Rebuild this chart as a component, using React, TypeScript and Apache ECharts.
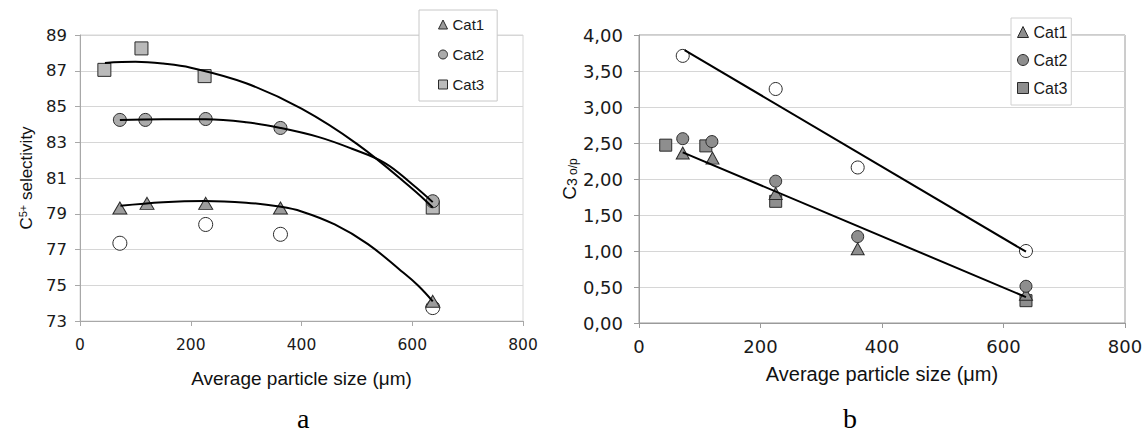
import React, { useEffect, useRef } from "react";
import * as echarts from "echarts";

// ---------- Chart a: C5+ selectivity ----------
const aCat1X = [72, 121, 227, 362, 637];
const aCat1Y = [79.32, 79.58, 79.58, 79.32, 74.1];
const aCat2X = [72, 118, 227, 362, 637];
const aCat2Y = [84.25, 84.25, 84.3, 83.8, 79.7];
const aCat3X = [44, 111, 225, 637];
const aCat3Y = [87.05, 88.25, 86.7, 79.35];
const aOpenX = [72, 227, 362, 637];
const aOpenY = [77.35, 78.4, 77.85, 73.75];
// trend curves
const aTrend1X = [73, 150, 225, 300, 360, 400, 460, 520, 580, 610, 637];
const aTrend1Y = [79.45, 79.65, 79.72, 79.62, 79.4, 79.13, 78.4, 77.3, 75.8, 75.0, 74.1];
const aTrend2X = [72, 150, 227, 300, 362, 430, 490, 550, 600, 637];
const aTrend2Y = [84.25, 84.28, 84.28, 84.12, 83.8, 83.3, 82.65, 81.85, 80.65, 79.65];
const aTrend3X = [45, 100, 150, 200, 300, 400, 500, 600, 637];
const aTrend3Y = [87.44, 87.5, 87.4, 87.17, 86.3, 84.88, 82.91, 80.4, 79.35];
const aYMin = 73;
const aYMax = 89;
const aYStep = 2;

// ---------- Chart b: C3 o/p ----------
const bCat1X = [72, 121, 225, 360, 637];
const bCat1Y = [2.36, 2.29, 1.8, 1.03, 0.4];
const bCat2X = [72, 120, 225, 360, 637];
const bCat2Y = [2.56, 2.52, 1.97, 1.2, 0.51];
const bCat3X = [44, 110, 225, 637];
const bCat3Y = [2.47, 2.46, 1.69, 0.31];
const bOpenX = [72, 225, 360, 637];
const bOpenY = [3.71, 3.25, 2.16, 1.0];
const bTrendUpperX = [75, 637];
const bTrendUpperY = [3.79, 0.99];
const bTrendLowerX = [72, 637];
const bTrendLowerY = [2.37, 0.36];

const xMin = 0;
const xMax = 800;
const xStep = 200;
const legendNames = ["Cat1", "Cat2", "Cat3"];

const SANS = "'Liberation Sans', Arial, Helvetica, sans-serif";
const WIDE = "'DejaVu Sans', 'Liberation Sans', Arial, sans-serif";
const SERIF = "'Liberation Serif', 'Times New Roman', serif";

const zip = (xs: number[], ys: number[], off = 0) => xs.map((x, i) => [x, ys[i] - off]);

export default function App() {
  const ref = useRef<HTMLDivElement>(null);
  useEffect(() => {
    if (!ref.current) return;
    const chart = echarts.init(ref.current, undefined, { renderer: "svg" });

    const grayA1 = "#9c9c9c";
    const grayA2 = "#ababab";
    const grayA3 = "#bababa";
    const grayB = "#8e8e8e";
    const edge = "#2a2a2a";

    const scatter = (
      name: string,
      xIdx: number,
      data: number[][],
      symbol: string,
      size: number | number[],
      fill: string
    ) => ({
      type: "scatter",
      name,
      xAxisIndex: xIdx,
      yAxisIndex: xIdx,
      data,
      symbol,
      symbolSize: size,
      itemStyle: { color: fill, borderColor: edge, borderWidth: 1, opacity: 1 },
      z: 2,
    });
    const trend = (xIdx: number, data: number[][], smooth: boolean) => ({
      type: "line",
      name: "trend",
      xAxisIndex: xIdx,
      yAxisIndex: xIdx,
      data,
      smooth: smooth ? 0.4 : false,
      showSymbol: false,
      symbol: "none",
      lineStyle: { color: "#000", width: 2 },
      z: 3,
    });

    const xAxisCommon = (gridIndex: number, fs: number, margin: number, nameGap: number, nameFs: number, lineColor: string) => ({
      type: "value",
      gridIndex,
      min: xMin,
      max: xMax,
      interval: xStep,
      name: "Average particle size (μm)",
      nameLocation: "middle",
      nameGap,
      nameTextStyle: { fontFamily: SANS, fontSize: nameFs, color: "#111" },
      axisLine: { show: true, lineStyle: { color: lineColor, width: 1 } },
      axisTick: { show: true, length: 5, lineStyle: { color: lineColor } },
      axisLabel: { fontFamily: WIDE, fontSize: fs, color: "#1a1a1a", margin },
      splitLine: { show: false },
    });

    const option: any = {
      animation: false,
      backgroundColor: "#fff",
      grid: [
        { left: 80, top: 35, width: 443, height: 286, show: true, borderColor: "#d6d6d6", borderWidth: 1, backgroundColor: "transparent" },
        { left: 639, top: 35, width: 486, height: 288, show: true, borderColor: "#9a9a9a", borderWidth: 1, backgroundColor: "transparent" },
      ],
      xAxis: [
        xAxisCommon(0, 15.5, 16, 48, 19, "#a8a8a8"),
        xAxisCommon(1, 18, 14, 41, 20, "#9a9a9a"),
      ],
      yAxis: [
        {
          type: "value",
          gridIndex: 0,
          min: 0,
          max: aYMax - aYMin,
          interval: aYStep,
          name: "{m|C}{sup|5+}{m| selectivity}",
          nameLocation: "middle",
          nameGap: 45,
          nameTextStyle: {
            fontFamily: SANS,
            color: "#111",
            rich: {
              m: { fontFamily: SANS, fontSize: 17, color: "#111" },
              sup: { fontFamily: SANS, fontSize: 11, color: "#111", verticalAlign: "top", padding: [0, 0, 7, 0] },
            },
          },
          axisLine: { show: true, lineStyle: { color: "#a8a8a8" } },
          axisTick: { show: true, length: 5, lineStyle: { color: "#a8a8a8" } },
          axisLabel: {
            fontFamily: WIDE,
            fontSize: 16.5,
            color: "#1a1a1a",
            margin: 13,
            formatter: (v: number) => String(v + aYMin),
          },
          splitLine: { show: true, lineStyle: { color: "#d6d6d6", width: 1 } },
        },
        {
          type: "value",
          gridIndex: 1,
          min: 0,
          max: 4,
          interval: 0.5,
          name: "{m|C}{sub|3}{s| o/p}",
          nameLocation: "middle",
          nameGap: 57,
          nameTextStyle: {
            fontFamily: SANS,
            color: "#111",
            rich: {
              m: { fontFamily: SANS, fontSize: 19, color: "#111" },
              sub: { fontFamily: SANS, fontSize: 14, color: "#111", verticalAlign: "bottom", padding: [6, 0, 0, 0] },
              s: { fontFamily: SANS, fontSize: 12, color: "#111", verticalAlign: "bottom", padding: [3, 0, 0, 0] },
            },
          },
          axisLine: { show: true, lineStyle: { color: "#9a9a9a" } },
          axisTick: { show: true, length: 5, lineStyle: { color: "#9a9a9a" } },
          axisLabel: {
            fontFamily: WIDE,
            fontSize: 18,
            color: "#1a1a1a",
            margin: 16,
            formatter: (v: number) => v.toFixed(2).replace(".", ","),
          },
          splitLine: { show: true, lineStyle: { color: "#d6d6d6", width: 1 } },
        },
      ],
      legend: [
        {
          orient: "vertical",
          left: 419,
          top: 10,
          padding: [7, 13, 9, 19],
          itemGap: 15,
          itemWidth: 9,
          itemHeight: 9,
          backgroundColor: "#fff",
          borderColor: "#c8c8c8",
          borderWidth: 1,
          borderRadius: 0,
          selectedMode: false,
          textStyle: { fontFamily: SANS, fontSize: 15, color: "#1a1a1a" },
          data: [
            { name: legendNames[0], icon: "triangle", itemStyle: { color: grayA1, borderColor: edge, borderWidth: 1 } },
            { name: legendNames[1], icon: "circle", itemStyle: { color: grayA2, borderColor: edge, borderWidth: 1 } },
            { name: legendNames[2], icon: "rect", itemStyle: { color: grayA3, borderColor: edge, borderWidth: 1 } },
          ],
        },
        {
          orient: "vertical",
          left: 1011,
          top: 18,
          padding: [6, 4, 9, 6],
          itemGap: 12,
          itemWidth: 11,
          itemHeight: 11,
          backgroundColor: "#fff",
          borderColor: "#d0d0d0",
          borderWidth: 1,
          borderRadius: 0,
          selectedMode: false,
          textStyle: { fontFamily: SANS, fontSize: 16, color: "#1a1a1a" },
          data: [
            { name: legendNames[0], icon: "triangle", itemStyle: { color: grayB, borderColor: edge, borderWidth: 1 } },
            { name: legendNames[1], icon: "circle", itemStyle: { color: grayB, borderColor: edge, borderWidth: 1 } },
            { name: legendNames[2], icon: "rect", itemStyle: { color: grayB, borderColor: edge, borderWidth: 1 } },
          ],
        },
      ],
      graphic: [
        { type: "text", left: 297, top: 404, style: { text: "a", fontFamily: SERIF, fontSize: 28, fill: "#000" } },
        { type: "text", left: 843, top: 404, style: { text: "b", fontFamily: SERIF, fontSize: 28, fill: "#000" } },
      ],
      series: [
        // chart a
        scatter("open", 0, zip(aOpenX, aOpenY, aYMin), "circle", 14, "#fff"),
        scatter(legendNames[2], 0, zip(aCat3X, aCat3Y, aYMin), "rect", 13, grayA3),
        scatter(legendNames[1], 0, zip(aCat2X, aCat2Y, aYMin), "circle", 13, grayA2),
        scatter(legendNames[0], 0, zip(aCat1X, aCat1Y, aYMin), "triangle", [14, 12], grayA1),
        trend(0, zip(aTrend1X, aTrend1Y, aYMin), true),
        trend(0, zip(aTrend2X, aTrend2Y, aYMin), true),
        trend(0, zip(aTrend3X, aTrend3Y, aYMin), true),
        // chart b
        scatter("open", 1, zip(bOpenX, bOpenY), "circle", 13, "#fff"),
        scatter(legendNames[2], 1, zip(bCat3X, bCat3Y), "rect", 12, grayB),
        scatter(legendNames[0], 1, zip(bCat1X, bCat1Y), "triangle", [13, 12], grayB),
        scatter(legendNames[1], 1, zip(bCat2X, bCat2Y), "circle", 12, grayB),
        trend(1, zip(bTrendUpperX, bTrendUpperY), false),
        trend(1, zip(bTrendLowerX, bTrendLowerY), false),
      ],
    };

    chart.setOption(option);
    return () => chart.dispose();
  }, []);

  return (
    <div
      ref={ref}
      style={{ position: "fixed", left: 0, top: 0, width: 1146, height: 436, background: "#fff" }}
    />
  );
}
